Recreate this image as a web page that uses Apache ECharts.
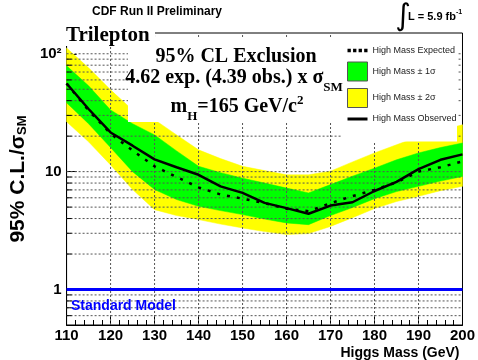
<!DOCTYPE html>
<html>
<head>
<meta charset="utf-8">
<script src="https://cdn.jsdelivr.net/npm/echarts@6/dist/echarts.min.js"></script>
<style>
  html, body { margin: 0; padding: 0; background: #fff; }
  #chart { width: 478px; height: 360px; }
</style>
</head>
<body>
<div id="chart"></div>
<script>
// Higgs masses (GeV)
const masses = [110, 115, 120, 125, 130, 135, 140, 145, 150, 155, 160, 165, 170, 175, 180, 185, 190, 195, 200];
// 95% CL limits / sigma_SM
const observed = [56, 34, 21.5, 16.6, 12.7, 10.9, 9.4, 7.5, 6.6, 5.43, 4.9, 4.39, 5.15, 5.5, 6.85, 8.2, 10.5, 12.6, 14.0];
const expected = [56, 33, 21, 15.1, 11.1, 9.0, 7.35, 6.4, 5.9, 5.4, 4.85, 4.62, 5.4, 6.2, 7.0, 8.1, 10.0, 10.9, 12.2];
const minus2 = [26.5, 17.9, 11.4, 7.05, 4.76, 4.24, 3.92, 3.59, 3.33, 3.1, 2.93, 2.98, 3.43, 4.07, 4.86, 5.58, 6.17, 6.9, 7.5];
const minus1 = [38.4, 25.5, 16, 10, 7.05, 5.8, 5.08, 4.67, 4.32, 3.96, 3.67, 3.55, 4.24, 4.96, 5.9, 6.77, 7.5, 8.31, 9.1];
const plus1 = [79, 53.5, 33.4, 25.5, 20.5, 15, 11.1, 9.8, 8.8, 8.0, 7.25, 6.6, 7.76, 9.15, 10.7, 12.6, 14.4, 16, 17.5];
const plus2 = [112, 76, 49.4, 33.4, 27.6, 20.5, 15.3, 12.9, 11.1, 10.2, 9.4, 9.4, 10.1, 12.1, 14.4, 16.9, 19.8, 22.3, 25];
// Standard Model reference
const smValue = 1;
// Grid / tick values
const xGridValues = [120, 130, 140, 150, 160, 170, 180, 190];
const yGridValues = [0.6, 0.7, 0.8, 0.9, 2, 3, 4, 5, 6, 7, 8, 9, 10, 20, 30, 40, 50, 60, 70, 80, 90, 100];
const yMinorTicks = [0.6, 0.7, 0.8, 0.9, 2, 3, 4, 5, 6, 7, 8, 9, 20, 30, 40, 50, 60, 70, 80, 90];
const yTickLabels = { 1: '1', 10: '10', 100: '10²' };

const X_MIN = 110, X_MAX = 200, Y_MIN = 0.5, Y_MAX = 150;
const pairs = (ys) => masses.map((m, i) => [m, ys[i]]);

const SANS = 'Liberation Sans';
const SERIF = 'Liberation Serif';
const GREEN = '#00ff00';
const YELLOW = '#ffff00';
const GRIDSTYLE = { stroke: '#555', lineWidth: 1, lineDash: [2, 2] };

function bandSeries(name, lo, hi, color) {
  return {
    name: name, type: 'custom', z: 2, silent: true, color: color, clip: true,
    data: [[masses[0], lo[0]]],
    renderItem: (params, api) => {
      if (params.dataIndex !== 0) return null;
      const top = masses.map((m, i) => api.coord([m, hi[i]]));
      const bot = masses.map((m, i) => api.coord([m, lo[i]])).reverse();
      return { type: 'polygon', shape: { points: top.concat(bot) }, style: { fill: color, stroke: color, lineWidth: 0.5 } };
    }
  };
}

const chart = echarts.init(document.getElementById('chart'), null, { renderer: 'canvas' });

const option = {
  animation: false,
  backgroundColor: '#fff',
  grid: { left: 55, right: 12, top: 33, bottom: 35, show: true, borderColor: '#000', borderWidth: 1, backgroundColor: 'transparent' },
  xAxis: {
    type: 'value', min: X_MIN, max: X_MAX, interval: 10,
    axisLine: { show: true, lineStyle: { color: '#000', width: 1 } },
    axisTick: { show: true, inside: true, length: 10, lineStyle: { color: '#000' } },
    minorTick: { show: true, splitNumber: 5, length: 5, lineStyle: { color: '#000' } },
    splitLine: { show: false },
    axisLabel: { color: '#000', fontFamily: SANS, fontWeight: 'bold', fontSize: 15, margin: 3 },
    name: 'Higgs Mass (GeV)', nameLocation: 'end', nameGap: -3,
    nameTextStyle: { color: '#000', fontFamily: SANS, fontWeight: 'bold', fontSize: 14, align: 'right', verticalAlign: 'top', padding: [21, 0, 0, 0] }
  },
  yAxis: {
    type: 'log', logBase: 10, min: Y_MIN, max: Y_MAX,
    axisLine: { show: true, lineStyle: { color: '#000', width: 1 } },
    axisTick: { show: true, inside: true, length: 10, lineStyle: { color: '#000' } },
    splitLine: { show: false },
    axisLabel: {
      color: '#000', fontFamily: SANS, fontWeight: 'bold', fontSize: 15, margin: 5,
      showMinLabel: false, showMaxLabel: false,
      formatter: (v) => yTickLabels[Math.round(v)] && Math.abs(v - Math.round(v)) < 1e-6 ? yTickLabels[Math.round(v)] : ''
    },
    name: '95% C.L./σ{sub|SM}', nameLocation: 'middle', nameRotate: 90, nameGap: 25,
    nameTextStyle: {
      color: '#000', fontFamily: SANS, fontWeight: 'bold', fontSize: 21,
      rich: { sub: { fontFamily: SANS, fontWeight: 'bold', fontSize: 13, padding: [8, 0, 0, 0] } }
    }
  },
  legend: {
    orient: 'vertical', left: 342, top: 41, z: 21,
    itemWidth: 20, itemHeight: 19, itemGap: 6.5,
    selectedMode: false,
    textStyle: { fontFamily: SANS, fontSize: 9, color: '#222' },
    data: [
      { name: 'High Mass Expected', icon: 'path://M0,0h3v3h-3z M5,0h3v3h-3z M10,0h3v3h-3z M15,0h3v3h-3z', itemStyle: { color: '#000', borderWidth: 0 } },
      { name: 'High Mass ± 1σ', icon: 'rect', itemStyle: { color: GREEN, borderColor: '#555', borderWidth: 1 } },
      { name: 'High Mass ± 2σ', icon: 'rect', itemStyle: { color: YELLOW, borderColor: '#555', borderWidth: 1 } },
      { name: 'High Mass Observed', icon: 'path://M0,0h20v3h-20z', itemStyle: { color: '#000', borderWidth: 0 } }
    ]
  },
  series: [
    bandSeries('High Mass ± 2σ', minus2, plus2, YELLOW),
    bandSeries('High Mass ± 1σ', minus1, plus1, GREEN),
    {
      name: 'hGrid', type: 'custom', z: 3, silent: true,
      data: yGridValues.map(v => [X_MIN, v]),
      renderItem: (params, api) => {
        const a = api.coord([X_MIN, api.value(1)]);
        const b = api.coord([X_MAX, api.value(1)]);
        return { type: 'line', shape: { x1: a[0], y1: a[1], x2: b[0], y2: b[1] }, style: GRIDSTYLE };
      }
    },
    {
      name: 'vGrid', type: 'custom', z: 3, silent: true,
      data: xGridValues.map(m => [m, Y_MIN]),
      renderItem: (params, api) => {
        const a = api.coord([api.value(0), Y_MIN]);
        const b = api.coord([api.value(0), Y_MAX]);
        return { type: 'line', shape: { x1: a[0], y1: a[1], x2: b[0], y2: b[1] }, style: GRIDSTYLE };
      }
    },
    {
      name: 'yMinorTicks', type: 'custom', z: 3, silent: true,
      data: yMinorTicks.map(v => [X_MIN, v]),
      renderItem: (params, api) => {
        const p = api.coord([api.value(0), api.value(1)]);
        return { type: 'line', shape: { x1: p[0], y1: p[1], x2: p[0] + 5, y2: p[1] }, style: { stroke: '#000', lineWidth: 1 } };
      }
    },
    {
      name: 'High Mass Expected', type: 'line', data: pairs(expected), symbol: 'none', z: 4, color: '#000',
      lineStyle: { color: '#000', width: 2.5, type: [3, 7] }
    },
    {
      name: 'High Mass Observed', type: 'line', data: pairs(observed), symbol: 'none', z: 4, color: '#000',
      lineStyle: { color: '#000', width: 2.5 }
    },
    {
      name: 'Standard Model', type: 'line', data: [], z: 4, silent: true,
      markLine: {
        silent: true, symbol: ['none', 'none'], label: { show: false },
        lineStyle: { color: '#0000ff', width: 3, type: 'solid' },
        data: [{ yAxis: smValue }]
      }
    }
  ],
  graphic: [
    { type: 'rect', z: 20, silent: true, shape: { x: 128, y: 37, width: 214, height: 85 }, style: { fill: '#fff' } },
    { type: 'rect', z: 20, silent: true, shape: { x: 342, y: 34, width: 115, height: 107.5 }, style: { fill: '#fff' } },
    { type: 'rect', z: 20, silent: true, shape: { x: 63, y: 24, width: 92, height: 22 }, style: { fill: '#fff' } },
    { type: 'text', z: 22, silent: true, style: { text: 'Trilepton', x: 66, y: 36, fontFamily: SERIF, fontWeight: 'bold', fontSize: 21, fill: '#000', verticalAlign: 'middle' } },
    { type: 'text', z: 22, silent: true, style: { text: 'CDF Run II Preliminary', x: 157, y: 12, fontFamily: SANS, fontWeight: 'bold', fontSize: 12, fill: '#000', align: 'center', verticalAlign: 'middle' } },
    { type: 'text', z: 22, silent: true, style: { text: '∫', x: 403, y: 17, fontFamily: 'DejaVu Sans', fontSize: 30, fill: '#000', align: 'center', verticalAlign: 'middle' } },
    { type: 'text', z: 22, silent: true, style: { text: 'L = 5.9 fb{sup|-1}', x: 408, y: 17, fontFamily: SANS, fontWeight: 'bold', fontSize: 11, fill: '#000', verticalAlign: 'middle',
        rich: { sup: { fontFamily: SANS, fontWeight: 'bold', fontSize: 7, padding: [0, 0, 9, 0] } } } },
    { type: 'text', z: 22, silent: true, style: { text: '95% CL Exclusion', x: 236, y: 57, fontFamily: SERIF, fontWeight: 'bold', fontSize: 20, fill: '#000', align: 'center', verticalAlign: 'middle' } },
    { type: 'text', z: 22, silent: true, style: { text: '4.62 exp. (4.39 obs.) x σ{sub|SM}', x: 234, y: 78, fontFamily: SERIF, fontWeight: 'bold', fontSize: 20, fill: '#000', align: 'center', verticalAlign: 'middle',
        rich: { sub: { fontFamily: SERIF, fontWeight: 'bold', fontSize: 13, padding: [20, 0, 0, 0] } } } },
    { type: 'text', z: 22, silent: true, style: { text: 'm{sub|H}=165 GeV/c{sup|2}', x: 237, y: 107, fontFamily: SERIF, fontWeight: 'bold', fontSize: 20, fill: '#000', align: 'center', verticalAlign: 'middle',
        rich: { sub: { fontFamily: SERIF, fontWeight: 'bold', fontSize: 13, padding: [20, 0, 0, 0] }, sup: { fontFamily: SERIF, fontWeight: 'bold', fontSize: 13, padding: [0, 0, 12, 0] } } } },
    { type: 'text', z: 22, silent: true, style: { text: 'Standard Model', x: 71, y: 306, fontFamily: SANS, fontWeight: 'bold', fontSize: 14, fill: '#0000ff', verticalAlign: 'middle' } }
  ]
};
chart.setOption(option);
</script>
</body>
</html>
